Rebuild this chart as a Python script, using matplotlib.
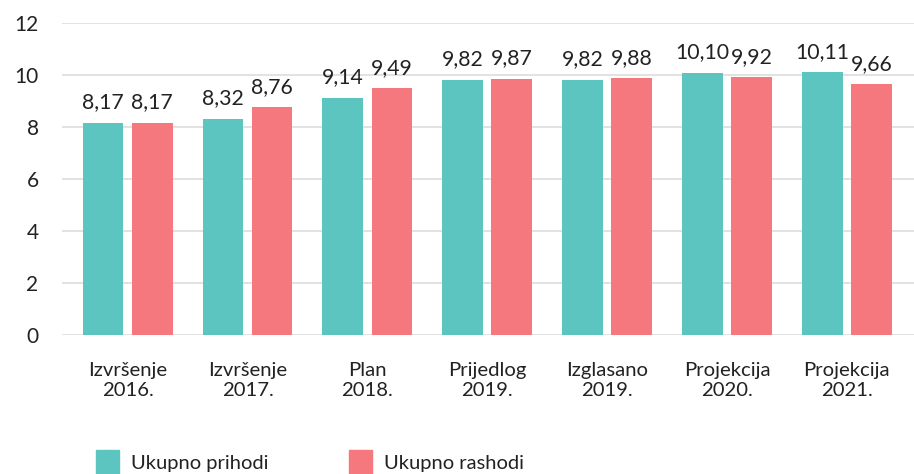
import numpy as np
import matplotlib.pyplot as plt
from matplotlib.patches import Rectangle

plt.rcParams['font.family'] = ['Lato', 'DejaVu Sans']

categories = ["Izvršenje\n2016.", "Izvršenje\n2017.", "Plan\n2018.", "Prijedlog\n2019.",
              "Izglasano\n2019.", "Projekcija\n2020.", "Projekcija\n2021."]
prihodi = [8.17, 8.32, 9.14, 9.82, 9.82, 10.10, 10.11]
rashodi = [8.17, 8.76, 9.49, 9.87, 9.88, 9.92, 9.66]
series_names = ["Ukupno prihodi", "Ukupno rashodi"]

teal = "#5CC5BF"
salmon = "#F4787D"
text_col = "#222222"

fig = plt.figure(figsize=(9.14, 4.74), dpi=100)
ax = fig.add_axes([0.068, 0.293, 0.932, 0.658])

x = np.arange(len(categories))
w = 0.34
off = 0.205
b1 = ax.bar(x - off, prihodi, w, color=teal, zorder=3)
b2 = ax.bar(x + off, rashodi, w, color=salmon, zorder=3)

def fmt(v):
    return f"{v:.2f}".replace(".", ",")

for bars, vals in ((b1, prihodi), (b2, rashodi)):
    for b, v in zip(bars, vals):
        ax.text(b.get_x() + b.get_width() / 2, v + 0.4, fmt(v), ha="center", va="bottom",
                fontsize=15.3, color=text_col)

ax.set_xlim(-0.546, 6.56)
ax.set_ylim(0, 12)
ax.set_yticks(range(0, 13, 2))
ax.set_xticks(x)
ax.set_xticklabels(categories, fontsize=14.6, color=text_col, linespacing=1.28)
ax.tick_params(axis="y", labelsize=15, colors=text_col, length=0, pad=17)
ax.tick_params(axis="x", length=0, pad=19)
ax.grid(axis="y", color="#DDDDDD", linewidth=1.2, zorder=0)
for s in ax.spines.values():
    s.set_visible(False)

# legend at bottom (cut off like the original)
fig.patches.append(Rectangle((96 / 914, 0), 23 / 914, 24 / 474,
                             transform=fig.transFigure, color=teal))
fig.text(131 / 914, 1 - 463 / 474, series_names[0], fontsize=14.5, color=text_col, va="center")
fig.patches.append(Rectangle((349 / 914, 0), 23 / 914, 24 / 474,
                             transform=fig.transFigure, color=salmon))
fig.text(384 / 914, 1 - 463 / 474, series_names[1], fontsize=14.5, color=text_col, va="center")

fig.savefig("out.png", dpi=100)
